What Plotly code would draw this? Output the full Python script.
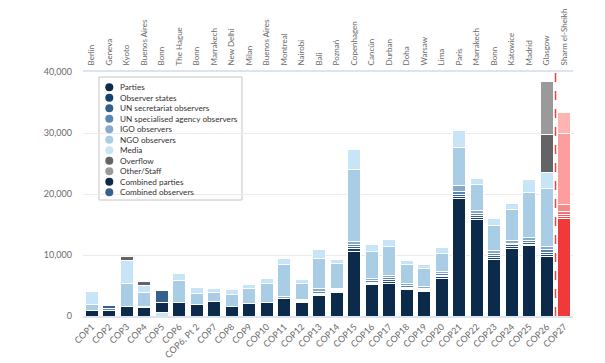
import plotly.graph_objects as go

categories = ["COP1", "COP2", "COP3", "COP4", "COP5", "COP6", "COP6, Pt 2", "COP7", "COP8",
              "COP9", "COP10", "COP11", "COP12", "COP13", "COP14", "COP15", "COP16", "COP17",
              "COP18", "COP19", "COP20", "COP21", "COP22", "COP23", "COP24", "COP25", "COP26", "COP27"]
cities = ["Berlin", "Geneva", "Kyoto", "Buenos Aires", "Bonn", "The Hague", "Bonn", "Marrakech",
          "New Delhi", "Milan", "Buenos Aires", "Montreal", "Nairobi", "Bali", "Poznań", "Copenhagen",
          "Cancún", "Durban", "Doha", "Warsaw", "Lima", "Paris", "Marrakech", "Bonn", "Katowice",
          "Madrid", "Glasgow", "Sharm el-Sheikh"]

parties = [850, 900, 1550, 1380, 0, 2250, 1900, 2400, 1600, 2050, 2250, 2800, 2250, 3400, 3900,
           10650, 5200, 5400, 4400, 4050, 6200, 19300, 15800, 9300, 11100, 11500, 9700, 16050]
observer_states = [0, 0, 0, 0, 0, 0, 0, 0, 0, 0, 0, 0, 0, 150, 100,
                   400, 150, 250, 100, 100, 200, 300, 300, 300, 250, 300, 350, 300]
un_secretariat = [0, 0, 0, 0, 0, 0, 0, 0, 0, 0, 0, 0, 150, 200, 150,
                  350, 200, 300, 200, 150, 250, 350, 350, 350, 300, 300, 400, 350]
un_specialised = [0, 250, 0, 0, 0, 0, 0, 0, 0, 0, 0, 0, 150, 300, 150,
                  350, 250, 350, 250, 200, 300, 400, 350, 350, 300, 350, 400, 450]
igo = [0, 0, 0, 250, 0, 0, 0, 0, 0, 0, 0, 400, 200, 450, 250,
       450, 300, 350, 350, 350, 400, 1000, 550, 500, 400, 450, 600, 1100]
ngo = [1000, 0, 3750, 2300, 0, 3600, 1800, 1450, 1900, 2500, 3000, 5300, 2550, 4900, 4000,
       11800, 4550, 4700, 3100, 2900, 2950, 6200, 4150, 4100, 5150, 7350, 9450, 11700]
media = [2100, 0, 3800, 1150, 600, 1050, 900, 670, 900, 630, 920, 980, 650, 1500, 700,
         3300, 1150, 1150, 700, 700, 1000, 2850, 1100, 1150, 900, 2100, 2550, 3450]
overflow = [0, 0, 650, 650, 0, 0, 0, 0, 0, 0, 0, 0, 0, 0, 0,
            0, 0, 0, 0, 0, 0, 0, 0, 0, 0, 0, 6300, 0]
other_staff = [0, 0, 0, 0, 0, 0, 0, 0, 0, 0, 0, 0, 0, 0, 0,
               0, 0, 0, 0, 0, 0, 0, 0, 0, 0, 0, 8700, 0]
combined_parties = [0, 0, 0, 0, 1600, 0, 0, 0, 0, 0, 0, 0, 0, 0, 0,
                    0, 0, 0, 0, 0, 0, 0, 0, 0, 0, 0, 0, 0]
combined_observers = [0, 500, 0, 0, 1980, 0, 0, 0, 0, 0, 0, 0, 0, 0, 0,
                      0, 0, 0, 0, 0, 0, 0, 0, 0, 0, 0, 0, 0]

series_names = ["Parties", "Observer states", "UN secretariat observers",
                "UN specialised agency observers", "IGO observers", "NGO observers", "Media",
                "Overflow", "Other/Staff", "Combined parties", "Combined observers"]
series_values = [parties, observer_states, un_secretariat, un_specialised, igo, ngo, media,
                 overflow, other_staff, combined_parties, combined_observers]
blue_colors = ["#0c2b4b", "#14416d", "#335f8b", "#5a86af", "#84abcf", "#a9cde5", "#c8e5f8",
               "#646464", "#9a9a9a", "#0c2b4b", "#36618f"]
red_colors = ["#f03a3a", "#f24c4c", "#f35f5f", "#f57272", "#f98888", "#fd9e9e", "#ffb3b3",
              "#646464", "#9a9a9a", "#f03a3a", "#f35f5f"]

FONT = "Lato, 'Open Sans', sans-serif"
n = len(categories)
Y_MAX = 40000
PLOT_W, PLOT_H = 490, 244


def px_to_x2(px):
    return -0.5 + px / PLOT_W * n


def py_to_y(py):
    return Y_MAX * (1 - py / PLOT_H)


fig = go.Figure()

for name, vals, bc, rc in zip(series_names, series_values, blue_colors, red_colors):
    fig.add_trace(go.Bar(
        x=categories, y=[v if v else None for v in vals], name=name,
        marker=dict(color=[bc] * (n - 1) + [rc], line=dict(color="white", width=1)),
        showlegend=False, hoverinfo="skip"))

# compact legend: circles drawn on the overlaid top axis, labels as annotations
leg_py = [15.3 + 10.5 * i for i in range(len(series_names))]
fig.add_trace(go.Scatter(x=[px_to_x2(26.3)] * len(series_names),
                         y=[py_to_y(p) for p in leg_py], xaxis="x2", yaxis="y",
                         mode="markers", marker=dict(size=8, color=blue_colors),
                         showlegend=False, hoverinfo="skip", cliponaxis=False))
for name, p in zip(series_names, leg_py):
    fig.add_annotation(x=35 / PLOT_W, y=1 - p / PLOT_H, xref="paper", yref="paper", text=name,
                       showarrow=False, xanchor="left", yanchor="middle",
                       font=dict(family=FONT, size=8.2, color="#333333"))
fig.add_shape(type="rect", xref="paper", yref="paper",
              x0=16 / PLOT_W, x1=159 / PLOT_W, y0=1 - 128 / PLOT_H, y1=1 - 5 / PLOT_H,
              line=dict(color="#c4c4c4", width=1), fillcolor="white", layer="between")

# separator before COP27
fig.add_shape(type="line", xref="x", yref="paper", x0=26.5, x1=26.5, y0=0, y1=1,
              line=dict(color="#e84545", width=1.5, dash="dash"), layer="above")

fig.update_layout(
    width=605, height=363, barmode="stack", bargap=0.24,
    margin=dict(l=75, r=40, t=64, b=55),
    plot_bgcolor="white", paper_bgcolor="white",
    font=dict(family=FONT, size=9, color="#666666"),
    xaxis=dict(type="category", tickangle=-45, showgrid=False, showline=True,
               linecolor="#dce5ef", linewidth=2, ticks="", automargin=False,
               tickfont=dict(size=9, color="#6a6a6a"), range=[-0.5, n - 0.5]),
    xaxis2=dict(overlaying="x", side="top", type="linear", range=[-0.5, n - 0.5],
                tickmode="array", tickvals=list(range(n)), ticktext=cities, tickangle=-90,
                showgrid=False, showline=True, linecolor="#dce5ef", linewidth=2, ticks="",
                automargin=False, zeroline=False, ticklabelstandoff=3,
                tickfont=dict(size=8, color="#6a6a6a")),
    yaxis=dict(range=[0, Y_MAX], tickvals=[0, 10000, 20000, 30000, 40000], tickformat=",",
               showgrid=True, gridcolor="#ebebeb", gridwidth=1, zeroline=False,
               showline=False, ticks="", automargin=False, ticklabelstandoff=10,
               tickfont=dict(size=9, color="#6a6a6a")),
)

fig.write_html("out.html")
